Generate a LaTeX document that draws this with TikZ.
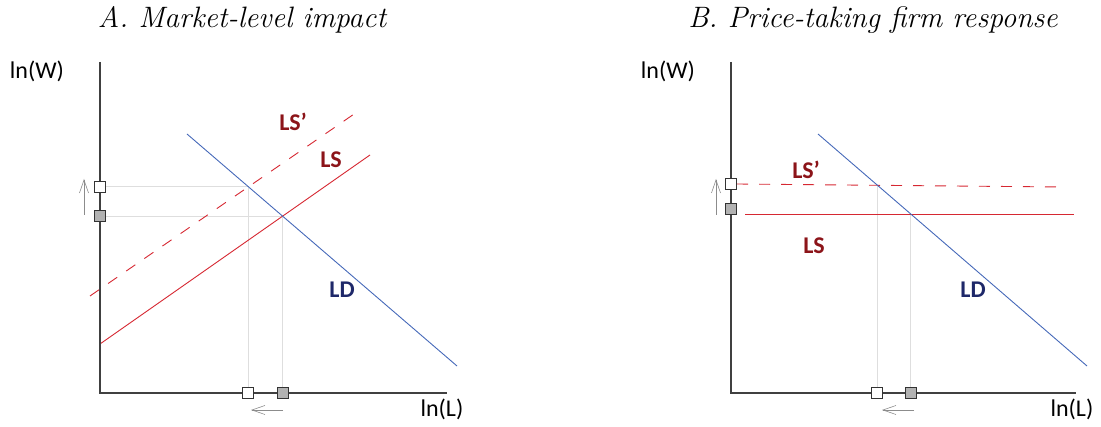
\documentclass[tikz,border=0pt]{standalone}
\usepackage{fontspec}
\newfontfamily\lblfont{Carlito}
\usepackage{xcolor}
\usetikzlibrary{arrows.meta, intersections}
\definecolor{lsred}{RGB}{214,40,50}
\definecolor{lslbl}{RGB}{140,20,25}
\definecolor{ldblue}{RGB}{70,105,185}
\definecolor{ldlbl}{RGB}{30,40,105}
\tikzset{
  axis/.style    = {draw=black!75, line width=1.5pt},
  guide/.style   = {draw=black!13, line width=1.2pt},
  lsline/.style  = {draw=lsred, line width=0.9pt},
  lsdash/.style  = {lsline, dash pattern=on 11pt off 11pt},
  ldline/.style  = {draw=ldblue, line width=0.9pt},
  mark0/.style   = {rectangle, draw=black!80, line width=1pt, fill=white,
                    minimum size=11pt, inner sep=0pt},
  mark1/.style   = {mark0, fill=black!30},
  movearr/.style = {draw=black!45, line width=0.6pt,
                    -{Straight Barb[length=13pt, width=9pt, line width=0.6pt]}},
  ttl/.style     = {font=\fontsize{29.5}{34}\selectfont\itshape},
  axlbl/.style   = {font=\lblfont\fontsize{24}{28}\selectfont},
  lslbl/.style   = {font=\lblfont\bfseries\fontsize{24}{28}\selectfont, text=lslbl},
  ldlbl/.style   = {font=\lblfont\bfseries\fontsize{24}{28}\selectfont, text=ldlbl},
}
\begin{document}
\begin{tikzpicture}[x=1pt, y=-1pt]
  \useasboundingbox (0,0) rectangle (1101,427);

  % A. market
  \node[ttl] (ttlA) at (242,20) {A. Market-level impact};
  \coordinate (oA) at (100,393);
  \coordinate (yA) at (100,62);
  \coordinate (xA) at (447,393);
  \node[axlbl] (wA) at (37,71) {ln(W)};
  \node[axlbl] (lA) at (442,409) {ln(L)};

  \path[name path=ldA] (187,134) coordinate (ldA0) -- (457,366) coordinate (ldA1);
  \path[name path=lsA] (100,344) coordinate (lsA0) -- (370,155) coordinate (lsA1);
  \path[name path=lspA] (90,296) coordinate (lspA0) -- (357,112) coordinate (lspA1);
  \path[name intersections={of=ldA and lsA, by=eqA}];
  \path[name intersections={of=ldA and lspA, by=eqpA}];

  \draw[guide] (oA |- eqpA) -- (eqpA) -- (eqpA |- oA);
  \draw[guide] (oA |- eqA) -- (eqA) -- (eqA |- oA);
  \draw[lsdash] (lspA0) -- (lspA1);
  \draw[lsline] (lsA0) -- (lsA1);
  \draw[ldline] (ldA0) -- (ldA1);
  \draw[axis] (yA) -- (oA) -- (xA);

  \node[mark0] (wpA) at (oA |- eqpA) {};
  \node[mark1] (w0A) at (oA |- eqA) {};
  \node[mark0] (qpA) at (eqpA |- oA) {};
  \node[mark1] (q0A) at (eqA |- oA) {};
  \coordinate (upA0) at (84,215);
  \coordinate (upA1) at (84,179);
  \coordinate (ltA0) at (283,410);
  \coordinate (ltA1) at (251,410);
  \draw[movearr] (upA0) -- (upA1);
  \draw[movearr] (ltA0) -- (ltA1);

  \node[lslbl] (lspAl) at (293,122) {LS’};
  \node[lslbl] (lsAl) at (331,160) {LS};
  \node[ldlbl] (ldAl) at (342,290) {LD};

  % B. firm
  \node[ttl] (ttlB) at (873,20) {B. Price-taking firm response};
  \coordinate (oB) at (731,393);
  \coordinate (yB) at (731,62);
  \coordinate (xB) at (1076,393);
  \node[axlbl] (wB) at (668,71) {ln(W)};
  \node[axlbl] (lB) at (1072,409) {ln(L)};

  \path[name path=ldB] (818,134) coordinate (ldB0) -- (1087,366) coordinate (ldB1);
  \path[name path=lsB] (745,214) coordinate (lsB0) -- (1074,214) coordinate (lsB1);
  \path[name path=lspB] (737,184) coordinate (lspB0) -- (1062,187) coordinate (lspB1);
  \path[name intersections={of=ldB and lsB, by=eqB}];
  \path[name intersections={of=ldB and lspB, by=eqpB}];

  \draw[guide] (eqpB) -- (eqpB |- oB);
  \draw[guide] (eqB) -- (eqB |- oB);
  \draw[lsdash] (lspB0) -- (lspB1);
  \draw[lsline] (lsB0) -- (lsB1);
  \draw[ldline] (ldB0) -- (ldB1);
  \draw[axis] (yB) -- (oB) -- (xB);

  \node[mark0] (wpB) at (731,184) {};
  \node[mark1] (w0B) at (731,209) {};
  \node[mark0] (qpB) at (eqpB |- oB) {};
  \node[mark1] (q0B) at (eqB |- oB) {};
  \coordinate (upB0) at (716,215);
  \coordinate (upB1) at (716,179);
  \coordinate (ltB0) at (914,410);
  \coordinate (ltB1) at (882,410);
  \draw[movearr] (upB0) -- (upB1);
  \draw[movearr] (ltB0) -- (ltB1);

  \node[lslbl] (lspBl) at (806,170) {LS’};
  \node[lslbl] (lsBl) at (814,246) {LS};
  \node[ldlbl] (ldBl) at (973,290) {LD};
\end{tikzpicture}
\end{document}
